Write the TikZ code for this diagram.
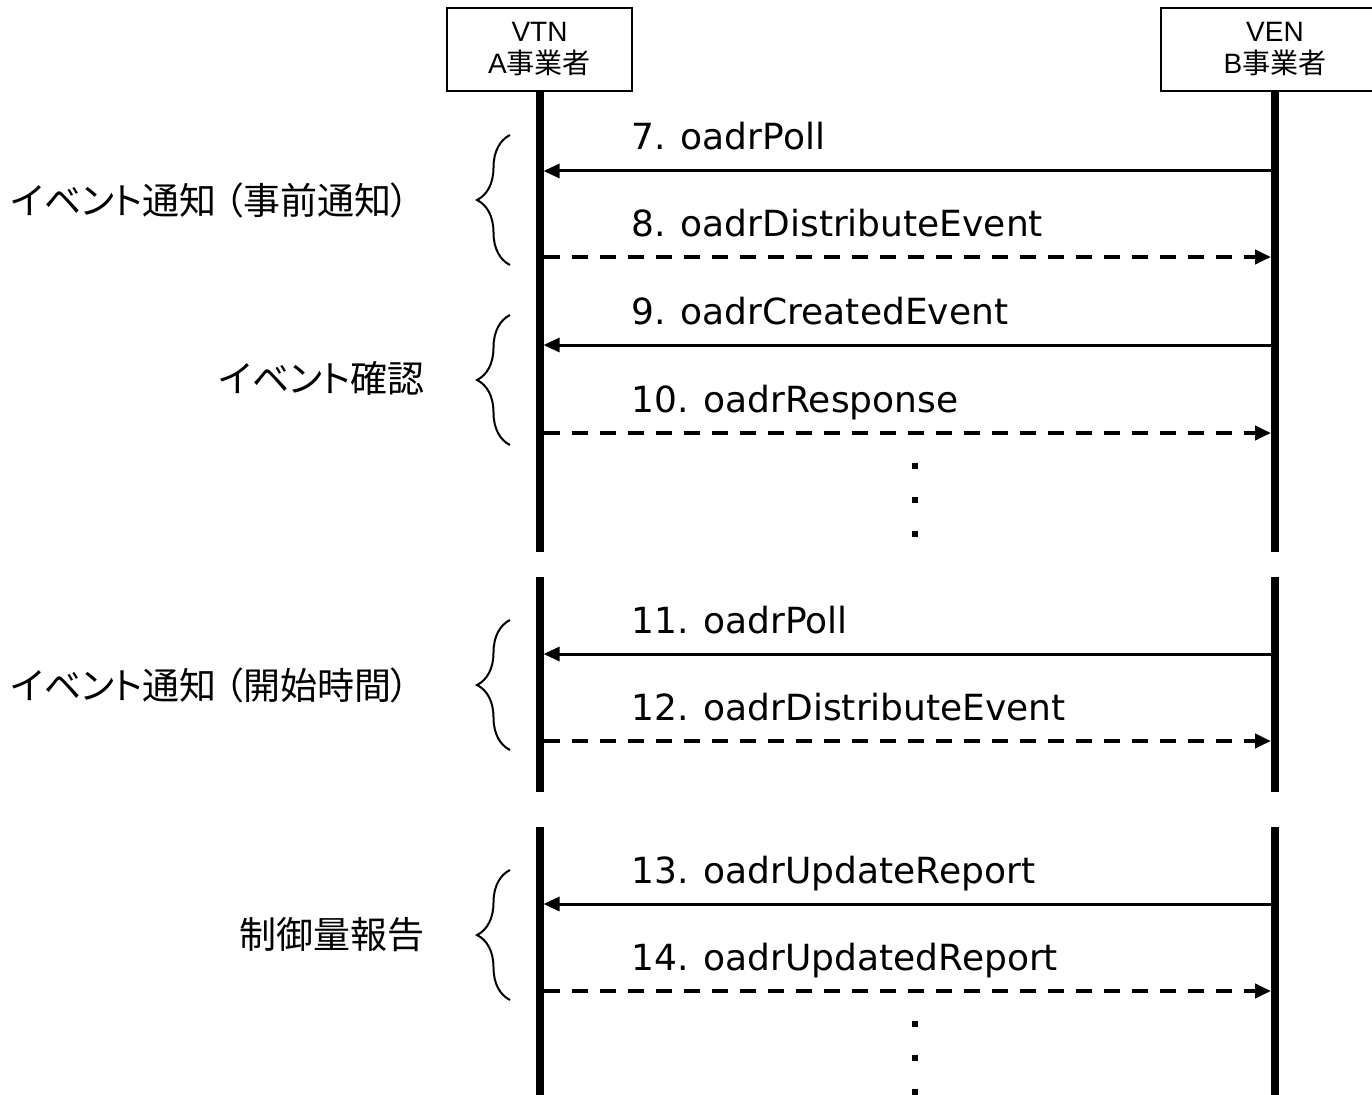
\documentclass[tikz,border=0pt]{standalone}
\usepackage{fontspec}
\setmainfont{Liberation Sans}
\newfontfamily\cjk[RawFeature=+palt]{Noto Sans CJK JP}
\newfontfamily\dv{DejaVu Sans}
\usetikzlibrary{arrows.meta,decorations.pathreplacing}
\begin{document}
\begin{tikzpicture}[x=1pt,y=-1pt,
 life/.style={line width=8pt},
 hdr/.style={draw,line width=1.5pt,minimum height=83pt,align=center,font=\fontsize{28}{32}\selectfont,inner sep=0pt},
 solidmsg/.style={line width=3pt,-{Triangle[length=16pt,width=14pt]}},
 dashmsg/.style={line width=4pt,dash pattern=on 16pt off 12pt,-{Triangle[length=16pt,width=14pt]}},
 lbl/.style={anchor=base west,inner sep=0pt,font=\dv\fontsize{36}{40}\selectfont},
 grp/.style={anchor=east,inner sep=0pt,font=\cjk\fontsize{37}{40}\selectfont},
 br/.style={decorate,decoration={brace,amplitude=33pt},line width=2pt},
 dotsq/.style={fill=black,minimum size=6pt,inner sep=0pt}
]
\useasboundingbox (0,0) rectangle (1372,1094);
\clip (0,0) rectangle (1372,1094);

% headers
\node[hdr,minimum width=185pt] (vtn) at (539.5,49.5) {VTN\\A{\cjk 事業者}};
\node[hdr,minimum width=228pt] (ven) at (1275,49.5) {VEN\\B{\cjk 事業者}};

% lifeline coordinates
\coordinate (a1e) at (539.5,552);
\coordinate (a2s) at (539.5,577);
\coordinate (a2e) at (539.5,792);
\coordinate (a3s) at (539.5,827);
\coordinate (a3e) at (539.5,1100);
\coordinate (b1e) at (1275,552);
\coordinate (b2s) at (1275,577);
\coordinate (b2e) at (1275,792);
\coordinate (b3s) at (1275,827);
\coordinate (b3e) at (1275,1100);
\draw[life] (vtn.south) -- (a1e);
\draw[life] (a2s) -- (a2e);
\draw[life] (a3s) -- (a3e);
\draw[life] (ven.south) -- (b1e);
\draw[life] (b2s) -- (b2e);
\draw[life] (b3s) -- (b3e);

% message end points
\foreach \n/\y in {7/171,8/257,9/345,10/433,11/654,12/741,13/904,14/991}{
  \coordinate (a\n) at (543.5,\y);
  \coordinate (b\n) at (1271,\y);
}
\draw[solidmsg] (b7) -- (a7);
\draw[dashmsg] (a8) -- (b8);
\draw[solidmsg] (b9) -- (a9);
\draw[dashmsg] (a10) -- (b10);
\draw[solidmsg] (b11) -- (a11);
\draw[dashmsg] (a12) -- (b12);
\draw[solidmsg] (b13) -- (a13);
\draw[dashmsg] (a14) -- (b14);

% message labels
\node[lbl] (l7) at (631,150) {7. oadrPoll};
\node[lbl] (l8) at (631,236) {8. oadrDistributeEvent};
\node[lbl] (l9) at (631,324) {9. oadrCreatedEvent};
\node[lbl] (l10) at (631,412) {10. oadrResponse};
\node[lbl] (l11) at (631,633) {11. oadrPoll};
\node[lbl] (l12) at (631,720) {12. oadrDistributeEvent};
\node[lbl] (l13) at (631,883) {13. oadrUpdateReport};
\node[lbl] (l14) at (631,970) {14. oadrUpdatedReport};

% dots
\node[dotsq] (d1) at (915,466) {};
\node[dotsq] (d2) at (915,500) {};
\node[dotsq] (d3) at (915,534) {};
\node[dotsq] (d4) at (915,1024) {};
\node[dotsq] (d5) at (915,1058) {};
\node[dotsq] (d6) at (915,1092) {};

% braces
\coordinate (g1t) at (510,135); \coordinate (g1b) at (510,265);
\coordinate (g2t) at (510,315); \coordinate (g2b) at (510,445);
\coordinate (g3t) at (510,620); \coordinate (g3b) at (510,750);
\coordinate (g4t) at (510,870); \coordinate (g4b) at (510,1000);
\draw[br] (g1b) -- (g1t);
\draw[br] (g2b) -- (g2t);
\draw[br] (g3b) -- (g3t);
\draw[br] (g4b) -- (g4t);

% group labels
\node[grp] (t1) at (410,200) {イベント通知\hspace{8pt}（事前通知）};
\node[grp] (t2) at (425,378) {イベント確認};
\node[grp] (t3) at (410,685) {イベント通知\hspace{8pt}（開始時間）};
\node[grp] (t4) at (425,935) {制御量報告};
\end{tikzpicture}
\end{document}
